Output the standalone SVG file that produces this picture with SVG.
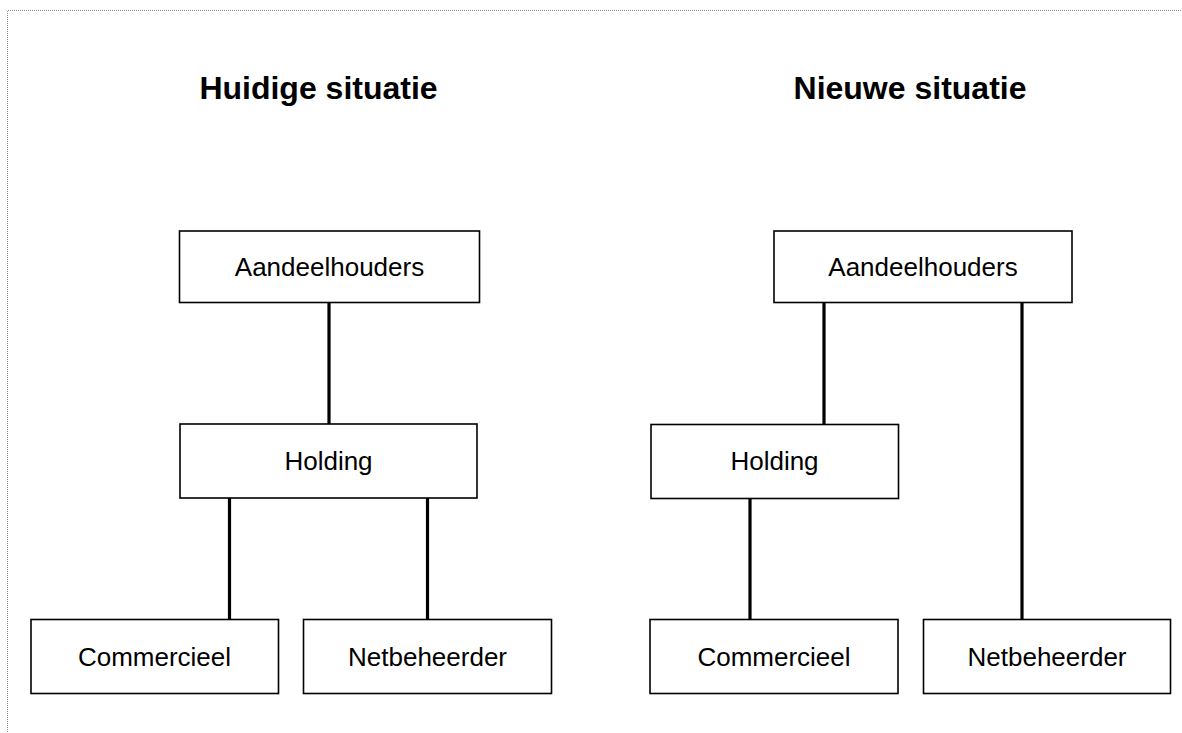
<svg xmlns="http://www.w3.org/2000/svg" width="1182" height="733" viewBox="0 0 1182 733">
<style>
.box{fill:#fff;stroke:#000;stroke-width:1.6}
.lbl{font-family:"Liberation Sans",Arial,sans-serif;font-size:26px;fill:#000;text-anchor:middle}
.ttl{font-family:"Liberation Sans",Arial,sans-serif;font-size:32px;font-weight:bold;fill:#000;text-anchor:middle}
.con{stroke:#000;stroke-width:3.2;fill:none}
</style>
<rect width="1182" height="733" fill="#fff"/>
<path d="M7.5 740 V10.5 H1190" fill="none" stroke="#8a8a8a" stroke-width="1" stroke-dasharray="1,1"/>
<text class="ttl" x="318.5" y="99">Huidige situatie</text>
<text class="ttl" x="910" y="99">Nieuwe situatie</text>
<g id="connectors">
<line class="con" x1="329" y1="302" x2="329" y2="424"/>
<line class="con" x1="229.5" y1="498" x2="229.5" y2="619"/>
<line class="con" x1="427.5" y1="498" x2="427.5" y2="619"/>
<line class="con" x1="824" y1="302" x2="824" y2="424"/>
<line class="con" x1="1022" y1="302" x2="1022" y2="619"/>
<line class="con" x1="750" y1="498" x2="750" y2="619"/>
</g>
<g id="l-aandeelhouders"><rect class="box" x="179.5" y="231" width="300" height="71.5"/><text class="lbl" x="329.5" y="276">Aandeelhouders</text></g>
<g id="l-holding"><rect class="box" x="180" y="424" width="297" height="74"/><text class="lbl" x="328.5" y="470">Holding</text></g>
<g id="l-commercieel"><rect class="box" x="31" y="619.5" width="247.5" height="74"/><text class="lbl" x="154.5" y="666">Commercieel</text></g>
<g id="l-netbeheerder"><rect class="box" x="303.5" y="619.5" width="248" height="74"/><text class="lbl" x="427.5" y="666">Netbeheerder</text></g>
<g id="r-aandeelhouders"><rect class="box" x="774" y="231" width="298" height="71.5"/><text class="lbl" x="923" y="276">Aandeelhouders</text></g>
<g id="r-holding"><rect class="box" x="651" y="424.5" width="247.5" height="74"/><text class="lbl" x="774.5" y="470">Holding</text></g>
<g id="r-commercieel"><rect class="box" x="650" y="619.5" width="248" height="74"/><text class="lbl" x="774" y="666">Commercieel</text></g>
<g id="r-netbeheerder"><rect class="box" x="923.5" y="619.5" width="247" height="74"/><text class="lbl" x="1047" y="666">Netbeheerder</text></g>
</svg>
